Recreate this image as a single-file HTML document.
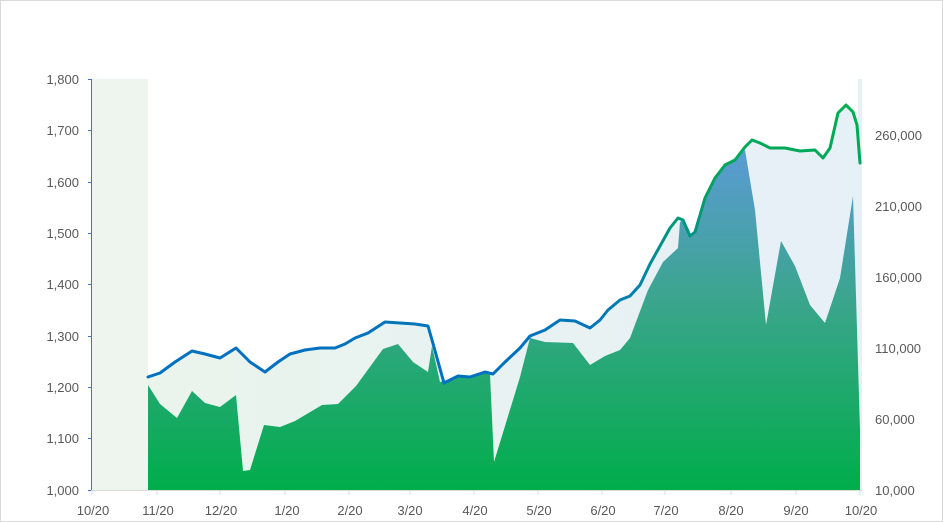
<!DOCTYPE html>
<html><head><meta charset="utf-8"><style>
body{margin:0;background:#fff}
svg{display:block;font-family:"Liberation Sans",sans-serif}
</style></head><body>
<svg width="943" height="522" viewBox="0 0 943 522">
<defs>
<linearGradient id="bg" x1="0" y1="0" x2="1" y2="0"><stop offset="0" stop-color="#eaf4ec"/><stop offset="1" stop-color="#e6f0f7"/></linearGradient>
<linearGradient id="vol" gradientUnits="userSpaceOnUse" x1="0" y1="150" x2="0" y2="490"><stop offset="0" stop-color="#5b9bd5"/><stop offset="0.45" stop-color="#3aa58c"/><stop offset="1" stop-color="#00ad4a"/></linearGradient>
<linearGradient id="ln" gradientUnits="userSpaceOnUse" x1="0" y1="110" x2="0" y2="380"><stop offset="0" stop-color="#00b050"/><stop offset="0.3" stop-color="#00a060"/><stop offset="0.6" stop-color="#0088a0"/><stop offset="0.85" stop-color="#0070c0"/><stop offset="1" stop-color="#0070c0"/></linearGradient>
</defs>
<rect x="0.5" y="0.5" width="942" height="521" fill="#fff" stroke="#d9d9d9"/>
<rect x="92" y="79" width="56" height="411" fill="#eef5ee"/>
<rect x="858" y="79" width="4" height="411" fill="#e6f0f7"/>
<path id="lp" d="M148,377 L160,373 175,362 192,351 205,354 220,358 236,348 250,362 265,372 278,362 290,354 305,350 320,348 335,348 345,344 355,338 368,333 385,322 400,323 415,324 428,326 432,340 444,383 458,376 470,377 485,372 493,374 505,362 520,348 530,336 545,330 560,320 575,321 590,328 600,320 608,310 620,300 630,296 640,285 650,264 660,246 670,228 678,218 683,220 690,236 695,232 705,198 715,178 725,165 735,160 745,147 752,140 760,143 770,148 785,148 800,151 815,150 823,158 830,148 838,113 846,105 853,112 857,125 860,163" fill="none"/>
<path d="M148,377 L160,373 175,362 192,351 205,354 220,358 236,348 250,362 265,372 278,362 290,354 305,350 320,348 335,348 345,344 355,338 368,333 385,322 400,323 415,324 428,326 432,340 444,383 458,376 470,377 485,372 493,374 505,362 520,348 530,336 545,330 560,320 575,321 590,328 600,320 608,310 620,300 630,296 640,285 650,264 660,246 670,228 678,218 683,220 690,236 695,232 705,198 715,178 725,165 735,160 745,147 752,140 760,143 770,148 785,148 800,151 815,150 823,158 830,148 838,113 846,105 853,112 857,125 860,163 L860,490 L148,490Z" fill="url(#bg)"/>
<path d="M148,385 L160,404 177,418 192,391 205,403 220,407 236,395 243,471 250,470 264,425 280,427 295,421 322,405 338,404 356,386 383,349 398,344 413,362 428,372 432,346 440,382 458,377 470,378 485,373 490,374 494,462 520,377 530,338 545,342 573,343 590,365 605,356 620,350 630,338 648,290 663,262 678,248 680,222 683,220 690,236 695,232 705,198 715,178 725,165 735,160 745,150 755,210 766,325 781,241 795,266 810,305 825,323 840,278 853,196 860,430 860,490 148,490Z" fill="url(#vol)"/>
<use href="#lp" stroke="url(#ln)" stroke-width="3" stroke-linejoin="round" stroke-linecap="round"/>
<g stroke="#4472c4" stroke-width="1"><line x1="91.5" y1="79" x2="91.5" y2="490"/>
<line x1="88" y1="79.5" x2="92" y2="79.5"/><line x1="88" y1="130.5" x2="92" y2="130.5"/><line x1="88" y1="182.5" x2="92" y2="182.5"/><line x1="88" y1="233.5" x2="92" y2="233.5"/><line x1="88" y1="284.5" x2="92" y2="284.5"/><line x1="88" y1="336.5" x2="92" y2="336.5"/><line x1="88" y1="387.5" x2="92" y2="387.5"/><line x1="88" y1="438.5" x2="92" y2="438.5"/><line x1="88" y1="490.5" x2="92" y2="490.5"/></g>
<line x1="91" y1="490.5" x2="862" y2="490.5" stroke="#d9d9d9"/>
<g stroke="#d9d9d9"><line x1="92" y1="490" x2="92" y2="495"/><line x1="157" y1="490" x2="157" y2="495"/><line x1="220" y1="490" x2="220" y2="495"/><line x1="285" y1="490" x2="285" y2="495"/><line x1="349" y1="490" x2="349" y2="495"/><line x1="410" y1="490" x2="410" y2="495"/><line x1="474" y1="490" x2="474" y2="495"/><line x1="538" y1="490" x2="538" y2="495"/><line x1="602" y1="490" x2="602" y2="495"/><line x1="665" y1="490" x2="665" y2="495"/><line x1="731" y1="490" x2="731" y2="495"/><line x1="796" y1="490" x2="796" y2="495"/><line x1="860" y1="490" x2="860" y2="495"/></g>
<g font-size="13" fill="#595959" text-anchor="end">
<text x="79" y="84">1,800</text><text x="79" y="135">1,700</text><text x="79" y="187">1,600</text><text x="79" y="238">1,500</text><text x="79" y="289">1,400</text><text x="79" y="341">1,300</text><text x="79" y="392">1,200</text><text x="79" y="443">1,100</text><text x="79" y="495">1,000</text></g>
<g font-size="13" fill="#595959">
<text x="875" y="140">260,000</text><text x="875" y="211">210,000</text><text x="875" y="282">160,000</text><text x="875" y="353">110,000</text><text x="875" y="424">60,000</text><text x="875" y="495">10,000</text></g>
<g font-size="13" fill="#595959" text-anchor="middle">
<text x="93" y="515">10/20</text><text x="158" y="515">11/20</text><text x="221" y="515">12/20</text><text x="287" y="515">1/20</text><text x="350" y="515">2/20</text><text x="410" y="515">3/20</text><text x="475" y="515">4/20</text><text x="539" y="515">5/20</text><text x="603" y="515">6/20</text><text x="666" y="515">7/20</text><text x="731" y="515">8/20</text><text x="796" y="515">9/20</text><text x="861" y="515">10/20</text></g>
</svg>
</body></html>
